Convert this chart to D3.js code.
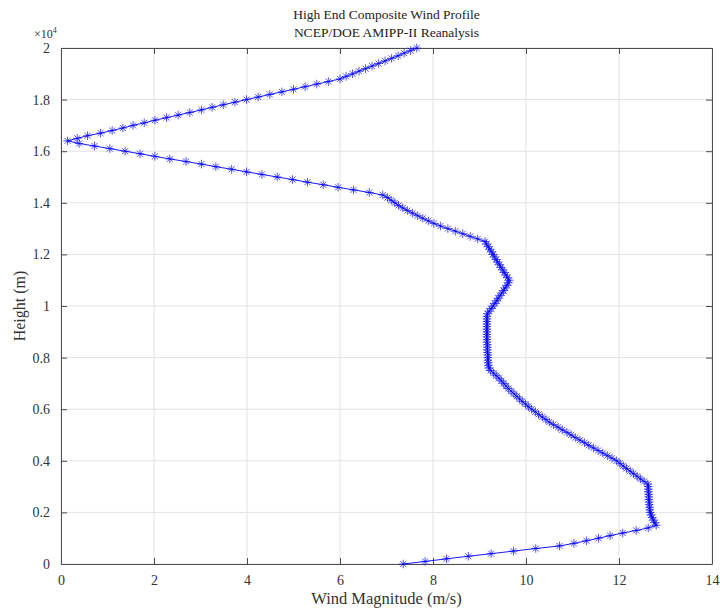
<!DOCTYPE html>
<html>
  <head>
    <meta charset="utf-8">
    <script src="https://d3js.org/d3.v7.min.js"></script>
    <style>
      body { margin: 0; background: #fff; }
      text { font-family: "Liberation Serif", "DejaVu Serif", serif; }
    </style>
    <title>High End Composite Wind Profile</title>
  </head>
  <body>
    <svg></svg>
    <script type="text/javascript">
      // heights (m) of each profile sample
      const heights = [
        0, 100, 200, 300, 400, 500, 600, 700, 800, 900,
        1000, 1100, 1200, 1300, 1400, 1500, 1600, 1700, 1800, 1900,
        2000, 2100, 2200, 2300, 2400, 2500, 2600, 2700, 2800, 2900,
        3000, 3100, 3200, 3300, 3400, 3500, 3600, 3700, 3800, 3900,
        4000, 4100, 4200, 4300, 4400, 4500, 4600, 4700, 4800, 4900,
        5000, 5100, 5200, 5300, 5400, 5500, 5600, 5700, 5800, 5900,
        6000, 6100, 6200, 6300, 6400, 6500, 6600, 6700, 6800, 6900,
        7000, 7100, 7200, 7300, 7400, 7500, 7600, 7700, 7800, 7900,
        8000, 8100, 8200, 8300, 8400, 8500, 8600, 8700, 8800, 8900,
        9000, 9100, 9200, 9300, 9400, 9500, 9600, 9700, 9800, 9900,
        10000, 10100, 10200, 10300, 10400, 10500, 10600, 10700, 10800, 10900,
        11000, 11100, 11200, 11300, 11400, 11500, 11600, 11700, 11800, 11900,
        12000, 12100, 12200, 12300, 12400, 12500, 12600, 12700, 12800, 12900,
        13000, 13100, 13200, 13300, 13400, 13500, 13600, 13700, 13800, 13900,
        14000, 14100, 14200, 14300, 14400, 14500, 14600, 14700, 14800, 14900,
        15000, 15100, 15200, 15300, 15400, 15500, 15600, 15700, 15800, 15900,
        16000, 16100, 16200, 16300, 16400, 16500, 16600, 16700, 16800, 16900,
        17000, 17100, 17200, 17300, 17400, 17500, 17600, 17700, 17800, 17900,
        18000, 18100, 18200, 18300, 18400, 18500, 18600, 18700, 18800, 18900,
        19000, 19100, 19200, 19300, 19400, 19500, 19600, 19700, 19800, 19900,
        20000
      ]

      // wind magnitude (m/s) at each height
      const windSpeed = [
        7.36, 7.83, 8.29, 8.76, 9.25, 9.73, 10.21, 10.72, 11.03, 11.30,
        11.56, 11.81, 12.08, 12.37, 12.63, 12.80, 12.77, 12.74, 12.71, 12.69,
        12.67, 12.66, 12.66, 12.65, 12.65, 12.64, 12.64, 12.64, 12.63, 12.63,
        12.63, 12.62, 12.54, 12.46, 12.39, 12.31, 12.24, 12.16, 12.09, 12.02,
        11.95, 11.85, 11.75, 11.65, 11.55, 11.45, 11.35, 11.26, 11.16, 11.06,
        10.97, 10.88, 10.78, 10.69, 10.59, 10.50, 10.43, 10.35, 10.27, 10.20,
        10.12, 10.05, 9.99, 9.92, 9.86, 9.80, 9.74, 9.68, 9.62, 9.57,
        9.52, 9.47, 9.42, 9.36, 9.30, 9.24, 9.20, 9.19, 9.19, 9.18,
        9.18, 9.18, 9.17, 9.17, 9.17, 9.17, 9.16, 9.16, 9.16, 9.16,
        9.16, 9.16, 9.16, 9.16, 9.16, 9.16, 9.16, 9.17, 9.21, 9.25,
        9.29, 9.33, 9.37, 9.40, 9.44, 9.48, 9.52, 9.55, 9.59, 9.62,
        9.64, 9.60, 9.57, 9.53, 9.50, 9.46, 9.43, 9.39, 9.36, 9.32,
        9.29, 9.26, 9.22, 9.19, 9.15, 9.12, 8.96, 8.80, 8.64, 8.48,
        8.32, 8.16, 8.02, 7.90, 7.78, 7.67, 7.56, 7.45, 7.35, 7.26,
        7.18, 7.10, 7.02, 6.92, 6.63, 6.29, 5.96, 5.64, 5.30, 4.98,
        4.65, 4.32, 3.99, 3.67, 3.33, 3.02, 2.69, 2.34, 2.02, 1.70,
        1.38, 1.05, 0.72, 0.39, 0.14, 0.35, 0.57, 0.85, 1.10, 1.33,
        1.55, 1.79, 2.02, 2.27, 2.52, 2.77, 3.02, 3.25, 3.49, 3.74,
        3.99, 4.24, 4.49, 4.75, 5.00, 5.25, 5.50, 5.75, 6.00, 6.13,
        6.27, 6.41, 6.55, 6.69, 6.83, 6.97, 7.11, 7.25, 7.38, 7.52,
        7.65
      ]

      const xTicks = [0, 2, 4, 6, 8, 10, 12, 14]
      const yTicks = [0, 2000, 4000, 6000, 8000, 10000, 12000, 14000, 16000, 18000, 20000]
      const yTickLabels = ['0', '0.2', '0.4', '0.6', '0.8', '1', '1.2', '1.4', '1.6', '1.8', '2']

      const titleLines = ['High End Composite Wind Profile', 'NCEP/DOE AMIPP-II Reanalysis']

      const width = 720
      const height = 611
      const margin = {top: 48, right: 8, bottom: 47, left: 61}

      const axisColor = '#4d4d4d'
      const gridColor = '#e3e3e3'
      const lineColor = '#0000ff'

      const svg =
        d3.select('svg')
          .attr('width', width)
          .attr('height', height)

      const x =
        d3.scaleLinear()
          .domain([0, 14])
          .range([margin.left, width - margin.right])

      const y =
        d3.scaleLinear()
          .domain([0, 20000])
          .range([height - margin.bottom, margin.top])

      const data = heights.map((h, i) => ({h: h, v: windSpeed[i]}))

      // grid
      svg.append('g')
        .selectAll('line')
        .data(xTicks)
        .enter()
        .append('line')
          .attr('x1', d => x(d))
          .attr('x2', d => x(d))
          .attr('y1', y(0))
          .attr('y2', y(20000))
          .attr('stroke', gridColor)

      svg.append('g')
        .selectAll('line')
        .data(yTicks)
        .enter()
        .append('line')
          .attr('x1', x(0))
          .attr('x2', x(14))
          .attr('y1', d => y(d))
          .attr('y2', d => y(d))
          .attr('stroke', gridColor)

      // axes, MATLAB style box with inward ticks
      const tick = 6
      const fmtY = d => yTickLabels[yTicks.indexOf(d)]

      const bottomAxis = svg.append('g')
        .attr('transform', `translate(0,${y(0)})`)
        .call(d3.axisBottom(x).tickValues(xTicks).tickSizeInner(-tick).tickSizeOuter(0).tickPadding(11))
      const topAxis = svg.append('g')
        .attr('transform', `translate(0,${y(20000)})`)
        .call(d3.axisTop(x).tickValues(xTicks).tickSizeInner(-tick).tickSizeOuter(0).tickFormat(''))
      const leftAxis = svg.append('g')
        .attr('transform', `translate(${x(0)},0)`)
        .call(d3.axisLeft(y).tickValues(yTicks).tickSizeInner(-tick).tickSizeOuter(0).tickPadding(11).tickFormat(fmtY))
      const rightAxis = svg.append('g')
        .attr('transform', `translate(${x(14)},0)`)
        .call(d3.axisRight(y).tickValues(yTicks).tickSizeInner(-tick).tickSizeOuter(0).tickFormat(''))

      ;[bottomAxis, topAxis, leftAxis, rightAxis].forEach(g => {
        g.select('.domain').attr('stroke', axisColor)
        g.selectAll('.tick line').attr('stroke', axisColor)
        g.selectAll('.tick text')
          .attr('fill', '#333')
          .style('font-family', '"Liberation Serif", serif')
          .style('font-size', '14px')
      })

      // profile line
      svg.append('path')
        .datum(data)
        .attr('fill', 'none')
        .attr('stroke', lineColor)
        .attr('stroke-width', 0.9)
        .attr('d', d3.line().x(d => x(d.v)).y(d => y(d.h)))

      // asterisk markers
      const r = 4.3
      const star = `M${-r},0L${r},0M0,${-r}L0,${r}` +
        `M${-r * 0.7},${-r * 0.7}L${r * 0.7},${r * 0.7}` +
        `M${-r * 0.7},${r * 0.7}L${r * 0.7},${-r * 0.7}`

      svg.append('g')
        .selectAll('path')
        .data(data)
        .enter()
        .append('path')
          .attr('transform', d => `translate(${x(d.v)},${y(d.h)})`)
          .attr('d', star)
          .attr('fill', 'none')
          .attr('stroke', lineColor)
          .attr('stroke-opacity', 0.75)
          .attr('stroke-width', 0.9)

      // exponent label
      const expo = svg.append('text')
        .attr('x', 34)
        .attr('y', 38)
        .attr('fill', '#333')
        .style('font-size', '12px')
      expo.append('tspan').text('×10')
      expo.append('tspan')
        .attr('dy', -5)
        .style('font-size', '8px')
        .text('4')

      // titles
      svg.selectAll('.title')
        .data(titleLines)
        .enter()
        .append('text')
          .attr('class', 'title')
          .attr('x', (x(0) + x(14)) / 2)
          .attr('y', (d, i) => 19 + i * 18)
          .attr('text-anchor', 'middle')
          .attr('fill', '#222')
          .style('font-size', '13.5px')
          .text(d => d)

      // axis labels
      svg.append('text')
        .attr('x', (x(0) + x(14)) / 2)
        .attr('y', 604)
        .attr('text-anchor', 'middle')
        .attr('fill', '#333')
        .style('font-size', '16.5px')
        .text('Wind Magnitude (m/s)')

      svg.append('text')
        .attr('transform', `translate(25,${(y(0) + y(20000)) / 2}) rotate(-90)`)
        .attr('text-anchor', 'middle')
        .attr('fill', '#333')
        .style('font-size', '16px')
        .text('Height (m)')
    </script>
  </body>
</html>
